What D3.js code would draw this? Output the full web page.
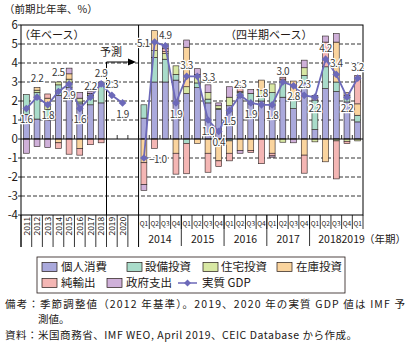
<!DOCTYPE html>
<html><head><meta charset="utf-8">
<script src="https://cdn.jsdelivr.net/npm/d3@7"></script>
<style>
body{margin:0;background:#fff;}
svg text{font-family:"Noto Sans CJK JP","Noto Sans",sans-serif;fill:#231815;}
</style></head><body>
<svg id="c" width="412" height="345"></svg>
<script>
// ---------- data ----------
const seriesNames = ["個人消費","設備投資","住宅投資","在庫投資","純輸出","政府支出"];
const seriesColors = ["#aaa9dc","#a9dcca","#d8e8a4","#fad49e","#f4b6b4","#cfb0d9"];

const years = ["2011","2012","2013","2014","2015","2016","2017","2018","2019","2020"];
const annualGDP = [1.6,2.2,1.8,2.5,2.9,1.6,2.2,2.9,2.3,1.9];
// annual contributions 2011-2018
const aPCE   = [1.3, 1.05, 1.0, 2.3, 2.7, 1.85, 1.8, 1.9];
const aNonres= [1.05,1.4, 0.55,0.55,0.25,0.1, 0.5, 1.1];
const aRes   = [0,   0.12,0.3, 0.15,0.2, 0.2, 0.08,0];
const aInv   = [0,   0.15,0.3,-0.2, 0.28,-0.5, 0.02,0];
const aNX    = [0,   0,   0.22,-0.3,-0.8,-0.35,-0.3,-0.2];
const aGov   = [-0.75,-0.4,-0.45,0, 0.3, 0.3, 0.1, 0];

const quarterKeys = ["2014Q1","2014Q2","2014Q3","2014Q4","2015Q1","2015Q2","2015Q3","2015Q4",
  "2016Q1","2016Q2","2016Q3","2016Q4","2017Q1","2017Q2","2017Q3","2017Q4",
  "2018Q1","2018Q2","2018Q3","2018Q4","2019Q1"];
const quarterGDP = [-1.0,5.1,4.9,1.9,3.3,3.3,1.0,0.4,1.5,2.3,1.9,1.8,1.8,3.0,2.8,2.3,2.2,4.2,3.4,2.2,3.2];
const qPCE   = [1.1,3.0,3.0,3.1,2.4,2.7,1.9,1.55,1.75,2.2,1.85,2.0,1.75,2.2,1.6,2.95,0.5,2.65,2.5,1.95,0.9];
const qNonres= [0.7,1.3,1.2,0.3,-0.23,0.25,0.2,0.05,-0.1,0.25,0.55,0.2,0.7,0.85,0.55,0.4,1.55,1.15,0.5,0.35,0.35];
const qRes   = [0,0.35,0.3,0.45,0.35,0.35,0.35,0.15,0.45,0.05,0,0.35,0.45,-0.17,0,0.4,-0.15,0,-0.1,-0.12,-0.1];
const qInv   = [-1.25,1.05,0.1,-0.75,2.08,-0.23,-0.75,-1.15,-0.65,-0.6,-0.6,0.55,-0.75,0.1,0.9,-0.85,0,-1.2,2.1,0.15,0.6];
const qNX    = [-1.15,-0.49,0.15,-1.1,-1.6,0.1,-1.0,-0.3,-0.4,0.3,-0.1,-1.3,-0.14,0.1,0,-0.95,0,1.3,-2.0,-0.12,1.5];
const qGov   = [-0.3,0,0.2,0,0.38,0.3,0.4,0.15,0.55,-0.15,0.2,0,-0.07,0,-0.2,0.4,0.25,0.32,0.45,0,0];

const yTicks = [-4,-3,-2,-1,0,1,2,3,4,5,6];
const quarterYears = ["2014","2015","2016","2017","2018","2019"];

// label placement (style, not data)
const annualLabelPos = ["b","T","b","T","b","b","t","t","t","b"];
const quarterLabelPos = ["r","l","t","b","t","r","b","b","b","t","b","t","b","t","b","t","b","t","t","b","t"];

// ---------- build ----------
const svg = d3.select("#c");
const gapKey = "_gap";
const keys = [...years, gapKey, ...quarterKeys];
const pIn = 0.45;
const x = d3.scaleBand().domain(keys).range([21,363]).paddingInner(pIn).paddingOuter(pIn/2);
const y = d3.scaleLinear().domain([-4,6]).range([215,25]);
const step = x.step();
const edge = k => x(k) - step*pIn/2;
const cx = k => x(k) + x.bandwidth()/2;
const L = 21, R = 363, T = 25, B = 215;

const rows = [];
years.slice(0,8).forEach((k,i)=>rows.push({key:k,
  "個人消費":aPCE[i],"設備投資":aNonres[i],"住宅投資":aRes[i],"在庫投資":aInv[i],"純輸出":aNX[i],"政府支出":aGov[i]}));
quarterKeys.forEach((k,i)=>rows.push({key:k,
  "個人消費":qPCE[i],"設備投資":qNonres[i],"住宅投資":qRes[i],"在庫投資":qInv[i],"純輸出":qNX[i],"政府支出":qGov[i]}));
const stacked = d3.stack().keys(seriesNames).offset(d3.stackOffsetDiverging)(rows);

// gridlines
svg.append("g").selectAll("line").data(yTicks.filter(v=>v!==0&&v!==-4&&v!==6)).join("line")
  .attr("x1",L).attr("x2",R).attr("y1",d=>y(d)).attr("y2",d=>y(d))
  .attr("stroke","#000").attr("stroke-width",0.8).attr("stroke-dasharray","4,2");

// bars
svg.append("g").selectAll("g").data(stacked).join("g")
  .attr("fill",(d,i)=>seriesColors[i])
  .selectAll("rect").data(d=>d.filter(s=>s[1]-s[0]!==0)).join("rect")
  .attr("x",d=>x(d.data.key)).attr("width",x.bandwidth())
  .attr("y",d=>y(Math.max(d[0],d[1]))).attr("height",d=>Math.abs(y(d[0])-y(d[1])))
  .attr("stroke","#2a2020").attr("stroke-width",0.6);

// frame
svg.append("rect").attr("x",L).attr("y",T).attr("width",R-L).attr("height",B-T)
  .attr("fill","none").attr("stroke","#000").attr("stroke-width",1);
// zero line + ticks
svg.append("line").attr("x1",L).attr("x2",R).attr("y1",y(0)).attr("y2",y(0)).attr("stroke","#000").attr("stroke-width",1);
svg.append("g").selectAll("line").data(keys.slice(1)).join("line")
  .attr("x1",d=>edge(d)).attr("x2",d=>edge(d)).attr("y1",y(0)-4).attr("y2",y(0))
  .attr("stroke","#000").attr("stroke-width",0.8);
// y ticks labels
svg.append("g").selectAll("text").data(yTicks).join("text")
  .attr("x",18).attr("y",d=>y(d)).attr("dy","0.36em").attr("text-anchor","end")
  .attr("font-size",11.5).text(d=>d);
svg.append("g").selectAll("line").data(yTicks).join("line")
  .attr("x1",L-3).attr("x2",L).attr("y1",d=>y(d)).attr("y2",d=>y(d)).attr("stroke","#000").attr("stroke-width",0.8);

// divider between annual and quarterly
svg.append("line").attr("x1",edge(quarterKeys[0])).attr("x2",edge(quarterKeys[0]))
  .attr("y1",T).attr("y2",247).attr("stroke","#000").attr("stroke-width",1);
// forecast line and arrow
const fx = edge("2019");
svg.append("line").attr("x1",fx).attr("x2",fx).attr("y1",62).attr("y2",B).attr("stroke","#000").attr("stroke-width",1);
svg.append("line").attr("x1",fx).attr("x2",129).attr("y1",62).attr("y2",62).attr("stroke","#000").attr("stroke-width",1);
svg.append("path").attr("d","M128,58.5L136,62L128,65.5Z").attr("fill","#000");
svg.append("text").attr("x",111).attr("y",56).attr("text-anchor","middle").attr("font-size",11).text("予測");

// panel titles
svg.append("text").attr("x",4).attr("y",13).attr("font-size",10.5).text("（前期比年率、%）");
svg.append("text").attr("x",19).attr("y",39).attr("font-size",11).text("（年ベース）");
svg.append("text").attr("x",225).attr("y",39).attr("font-size",11).text("（四半期ベース）");

// GDP lines
const lineColor = "#6c69b9";
const line = d3.line().x(d=>cx(d.k)).y(d=>y(d.v));
const aPts = years.map((k,i)=>({k, v:annualGDP[i], p:annualLabelPos[i]}));
const qPts = quarterKeys.map((k,i)=>({k, v:quarterGDP[i], p:quarterLabelPos[i]}));
[aPts,qPts].forEach(pts=>{
  svg.append("path").datum(pts).attr("d",line).attr("fill","none").attr("stroke",lineColor).attr("stroke-width",1.8);
  svg.append("g").selectAll("path").data(pts).join("path")
    .attr("d",d3.symbol(d3.symbolSquare,30))
    .attr("transform",d=>`translate(${cx(d.k)},${y(d.v)}) rotate(45)`)
    .attr("fill",lineColor);
});
const fmt = d3.format(".1f");
const lp = p => ({t:[0,-11,"middle"],T:[0,-19,"middle"],b:[0,11,"middle"],r:[5,1,"start"],l:[-5,1,"end"]})[p];
svg.append("g").selectAll("text").data([...aPts,...qPts]).join("text")
  .attr("x",d=>cx(d.k)+lp(d.p)[0]).attr("y",d=>y(d.v)+lp(d.p)[1]).attr("dy","0.36em")
  .attr("text-anchor",d=>lp(d.p)[2]).attr("font-size",10).attr("letter-spacing",-0.4)
  .attr("stroke","#fff").attr("stroke-width",2.5).attr("stroke-linejoin","round").attr("paint-order","stroke")
  .style("fill","#3a3a3a").text(d=>fmt(d.v));

// bottom category area
const axisG = svg.append("g");
axisG.selectAll("line.a").data([...years, gapKey]).join("line").attr("class","a")
  .attr("x1",d=>edge(d)).attr("x2",d=>edge(d)).attr("y1",B).attr("y2",247).attr("stroke","#000").attr("stroke-width",0.8);
axisG.append("line").attr("x1",L).attr("x2",L).attr("y1",B).attr("y2",247).attr("stroke","#000").attr("stroke-width",1);
axisG.selectAll("text.a").data(years).join("text").attr("class","a")
  .attr("transform",d=>`translate(${cx(d)+0.3},217) rotate(-90)`).attr("text-anchor","end").attr("dy","0.35em")
  .attr("font-size",8.3).text(d=>d);
axisG.selectAll("line.q").data([...quarterKeys.slice(1),"_end"]).join("line").attr("class","q")
  .attr("x1",d=>d==="_end"?R:edge(d)).attr("x2",d=>d==="_end"?R:edge(d)).attr("y1",B).attr("y2",229)
  .attr("stroke","#000").attr("stroke-width",0.8);
axisG.selectAll("text.q").data(quarterKeys).join("text").attr("class","q")
  .attr("x",d=>cx(d)).attr("y",226).attr("text-anchor","middle").attr("font-size",6.5).text(d=>d.slice(4));
quarterYears.forEach(yr=>{
  const ks = quarterKeys.filter(k=>k.startsWith(yr));
  const mid = (cx(ks[0])+cx(ks[ks.length-1]))/2;
  axisG.append("text").attr("x",mid+(yr==="2019"?-4.5:(yr==="2018"?-1:0))).attr("y",243)
    .attr("text-anchor","middle").attr("font-size",10.5).text(yr);
  if(yr!=="2014"&&yr!=="2019") axisG.append("line").attr("x1",edge(ks[0])).attr("x2",edge(ks[0])).attr("y1",B).attr("y2",246).attr("stroke","#000").attr("stroke-width",0.8);
});
axisG.append("text").attr("x",364).attr("y",243).attr("font-size",10.5).text("（年期）");

// legend
const lg = svg.append("g");
lg.append("rect").attr("x",37).attr("y",257).attr("width",308).attr("height",36).attr("fill","#fff").attr("stroke","#231815").attr("stroke-width",0.8);
const legendItems = [
  {i:0,sx:42,tx:61,row:0},{i:1,sx:127,tx:145,row:0},{i:2,sx:203,tx:221,row:0},{i:3,sx:277,tx:296,row:0},
  {i:4,sx:42,tx:61,row:1},{i:5,sx:107,tx:126,row:1}];
legendItems.forEach(it=>{
  const yc = 267 + it.row*16;
  lg.append("rect").attr("x",it.sx).attr("y",yc-4.5).attr("width",15).attr("height",9)
    .attr("fill",seriesColors[it.i]).attr("stroke","#231815").attr("stroke-width",0.7);
  lg.append("text").attr("x",it.tx).attr("y",yc).attr("dy","0.36em").attr("font-size",11.5).text(seriesNames[it.i]);
});
lg.append("line").attr("x1",178).attr("x2",197).attr("y1",283).attr("y2",283).attr("stroke",lineColor).attr("stroke-width",1.5);
lg.append("path").attr("d",d3.symbol(d3.symbolSquare,24)).attr("transform","translate(187.5,283) rotate(45)").attr("fill",lineColor);
lg.append("text").attr("x",202).attr("y",283).attr("dy","0.36em").attr("font-size",11.5).text("実質 GDP");

// notes
svg.append("text").attr("x",5).attr("y",307.5).attr("font-size",10.5).attr("textLength",400).attr("lengthAdjust","spacing")
  .text("備考：季節調整値（2012 年基準）。2019、2020 年の実質 GDP 値は IMF 予");
svg.append("text").attr("x",38).attr("y",323).attr("font-size",10.5).text("測値。");
svg.append("text").attr("x",5).attr("y",338.5).attr("font-size",10.5).attr("textLength",352).attr("lengthAdjust","spacing")
  .text("資料：米国商務省、IMF WEO, April 2019、CEIC Database から作成。");
</script>
</body></html>
